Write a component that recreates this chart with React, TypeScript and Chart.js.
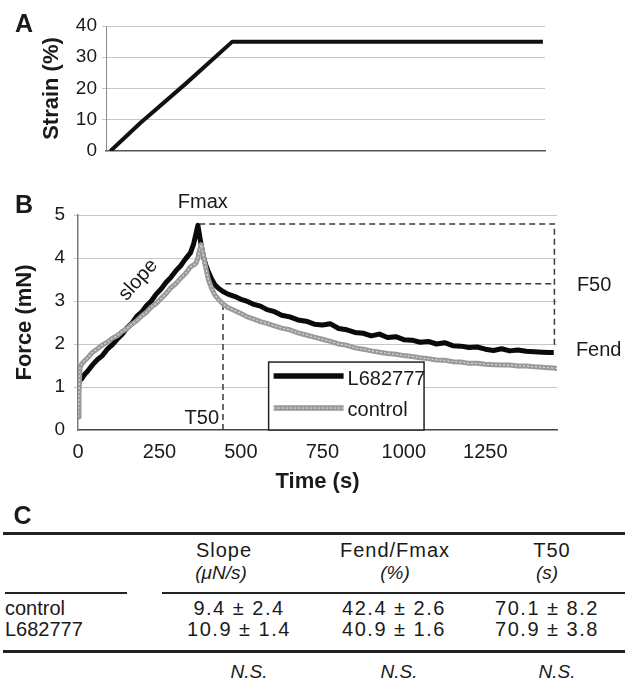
import React, { useEffect, useRef } from "react";
import { Chart, registerables } from "chart.js";

Chart.register(...registerables);

const FONT = '"Liberation Sans", Arial, Helvetica, sans-serif';
const INK = "#1a1a1a";

// ---------- Panel A: strain protocol ----------
const strainTime = [15, 114, 270, 423, 1463];
const strainValues = [0, 8.9, 21.8, 35, 35];
const strainTicks = [0, 10, 20, 30, 40];

// ---------- Panel B: force traces ----------
const timeS = [
  0, 3, 6, 10, 20, 30, 45, 60, 75, 90,
  105, 120, 135, 150, 165, 180, 195, 210, 225, 240,
  255, 270, 285, 300, 315, 330, 345, 355, 362, 368,
  372, 378, 385, 392, 400, 410, 420, 432, 445, 460,
  480, 500, 520, 540, 560, 580, 600, 625, 650, 675,
  700, 725, 750, 775, 800, 825, 850, 875, 900, 925,
  950, 975, 1000, 1025, 1050, 1075, 1100, 1125, 1150, 1175,
  1200, 1225, 1250, 1275, 1300, 1325, 1350, 1375, 1400, 1425,
  1445, 1460, 1472,
];
const forceL682777 = [
  null, 1.10, 1.15, 1.18, 1.29, 1.37, 1.52, 1.64, 1.73, 1.88,
  1.98, 2.11, 2.22, 2.37, 2.48, 2.64, 2.74, 2.89, 3.00, 3.16,
  3.28, 3.43, 3.55, 3.70, 3.82, 3.98, 4.12, 4.33, 4.56, 4.76,
  4.58, 4.30, 4.03, 3.84, 3.68, 3.51, 3.38, 3.29, 3.22, 3.16,
  3.11, 3.04, 2.99, 2.92, 2.88, 2.80, 2.76, 2.67, 2.63, 2.56,
  2.53, 2.46, 2.44, 2.47, 2.36, 2.33, 2.27, 2.25, 2.19, 2.23,
  2.15, 2.17, 2.10, 2.09, 2.04, 2.06, 2.00, 2.03, 1.96, 1.95,
  1.92, 1.93, 1.88, 1.85, 1.89, 1.84, 1.86, 1.83, 1.82, 1.81,
  1.80, 1.80, null,
];
const forceControl = [
  0.30, 0.85, 1.45, 1.52, 1.61, 1.68, 1.81, 1.89, 1.98, 2.04,
  2.13, 2.19, 2.29, 2.36, 2.46, 2.54, 2.65, 2.74, 2.86, 2.94,
  3.06, 3.17, 3.31, 3.40, 3.53, 3.64, 3.79, 3.84, 3.88, 4.00,
  4.16, 4.31, 4.05, 3.78, 3.50, 3.30, 3.14, 3.03, 2.93, 2.85,
  2.78, 2.71, 2.63, 2.58, 2.52, 2.48, 2.43, 2.37, 2.33, 2.26,
  2.21, 2.16, 2.11, 2.06, 2.00, 1.97, 1.91, 1.88, 1.84, 1.81,
  1.78, 1.76, 1.73, 1.71, 1.68, 1.66, 1.63, 1.62, 1.59, 1.58,
  1.55, 1.55, 1.53, 1.52, 1.51, 1.51, 1.49, 1.49, 1.47, 1.46,
  1.45, 1.44, 1.43,
];
const timeTicks = [0, 250, 500, 750, 1000, 1250];
const forceTicks = [0, 1, 2, 3, 4, 5];
const seriesNames = ["L682777", "control"];

// annotation values (data units)
const fmaxValue = 4.79;
const fmaxTime = 372;
const f50Value = 3.4;
const f50StartTime = 452;
const t50Time = 445;
const t50Force = 2.93;
const endTime = 1462;
const fendValue = 1.9;

// ---------- Panel C: table ----------
const tableHeaders = ["Slope", "Fend/Fmax", "T50"];
const tableUnits = ["(\u03bcN/s)", "(%)", "(s)"];
const tableRows = ["control", "L682777"];
const controlStats = ["9.4 \u00b1 2.4", "42.4 \u00b1 2.6", "70.1 \u00b1 8.2"];
const l682777Stats = ["10.9 \u00b1 1.4", "40.9 \u00b1 1.6", "70.9 \u00b1 3.8"];
const significance = ["N.S.", "N.S.", "N.S."];

const CONTROL_COLOR = "#999999";
const CONTROL_TEXTURE = "#d6d6d6";
const L_COLOR = "#0a0a0a";

const gridColor = (ctx: any) =>
  ctx.tick && ctx.tick.value === 0 ? "rgba(0,0,0,0)" : "#c6c6c6";

const plainTick = (v: any) => String(v);

const forceAnnotations = {
  id: "forceAnnotations",
  beforeDatasetsDraw(chart: any) {
    const { ctx, scales } = chart;
    const x = scales.x;
    const y = scales.y;
    ctx.save();
    ctx.strokeStyle = "#3a3a3a";
    ctx.lineWidth = 1.5;
    ctx.setLineDash([6, 4]);
    ctx.beginPath();
    ctx.moveTo(x.getPixelForValue(fmaxTime), y.getPixelForValue(fmaxValue));
    ctx.lineTo(x.getPixelForValue(endTime), y.getPixelForValue(fmaxValue));
    ctx.lineTo(x.getPixelForValue(endTime), y.getPixelForValue(fendValue));
    ctx.stroke();
    ctx.beginPath();
    ctx.moveTo(x.getPixelForValue(f50StartTime), y.getPixelForValue(f50Value));
    ctx.lineTo(x.getPixelForValue(endTime), y.getPixelForValue(f50Value));
    ctx.stroke();
    ctx.beginPath();
    ctx.moveTo(x.getPixelForValue(t50Time), y.getPixelForValue(t50Force));
    ctx.lineTo(x.getPixelForValue(t50Time), y.getPixelForValue(0));
    ctx.stroke();
    ctx.restore();
  },
  afterDatasetsDraw(chart: any) {
    const { ctx, scales } = chart;
    const x = scales.x;
    const y = scales.y;
    const left = x.getPixelForValue(585);
    const right = x.getPixelForValue(1062);
    const top = y.getPixelForValue(1.58);
    const bottom = y.getPixelForValue(0);
    ctx.save();
    ctx.fillStyle = "#ffffff";
    ctx.fillRect(left, top, right - left, bottom - top);
    ctx.strokeStyle = "#222";
    ctx.lineWidth = 1.5;
    ctx.strokeRect(left, top, right - left, bottom - top);
    const rows = [
      { label: seriesNames[0], y: top + 14, ty: top + 17, control: false },
      { label: seriesNames[1], y: top + 46, ty: top + 48, control: true },
    ];
    ctx.font = `20px ${FONT}`;
    ctx.textBaseline = "middle";
    ctx.textAlign = "left";
    rows.forEach((r) => {
      ctx.setLineDash([]);
      ctx.lineCap = "butt";
      ctx.beginPath();
      ctx.moveTo(left + 5, r.y);
      ctx.lineTo(left + 75, r.y);
      ctx.strokeStyle = r.control ? CONTROL_COLOR : L_COLOR;
      ctx.lineWidth = 5.5;
      ctx.stroke();
      if (r.control) {
        ctx.beginPath();
        ctx.setLineDash([2, 2]);
        ctx.moveTo(left + 5, r.y);
        ctx.lineTo(left + 75, r.y);
        ctx.strokeStyle = CONTROL_TEXTURE;
        ctx.lineWidth = 1.3;
        ctx.stroke();
        ctx.setLineDash([]);
      }
      ctx.fillStyle = INK;
      ctx.fillText(r.label, left + 79, r.ty);
    });
    ctx.restore();
  },
  afterDraw(chart: any) {
    const { ctx, scales } = chart;
    const x = scales.x;
    const y = scales.y;
    ctx.save();
    ctx.fillStyle = INK;
    ctx.font = `20px ${FONT}`;
    ctx.textBaseline = "middle";
    ctx.textAlign = "center";
    ctx.fillText("Fmax", x.getPixelForValue(383), y.getPixelForValue(5.3));
    ctx.fillText("T50", x.getPixelForValue(380), y.getPixelForValue(0.26));
    ctx.textAlign = "left";
    ctx.fillText("F50", x.getPixelForValue(1531), y.getPixelForValue(3.37));
    ctx.fillText("Fend", x.getPixelForValue(1528), y.getPixelForValue(1.86));
    ctx.translate(x.getPixelForValue(185), y.getPixelForValue(3.49));
    ctx.rotate((-48 * Math.PI) / 180);
    ctx.textAlign = "center";
    ctx.fillText("slope", 0, 0);
    ctx.restore();
  },
};

function Txt(props: {
  x: number;
  y: number;
  size?: number;
  bold?: boolean;
  italic?: boolean;
  left?: boolean;
  ls?: number;
  children: React.ReactNode;
}) {
  const { x, y, size = 20, bold, italic, left, ls = 0, children } = props;
  return (
    <div
      style={{
        position: "absolute",
        left: x,
        top: y,
        transform: left ? "translate(0,-50%)" : "translate(-50%,-50%)",
        fontSize: size,
        lineHeight: `${size}px`,
        fontWeight: bold ? "bold" : "normal",
        fontStyle: italic ? "italic" : "normal",
        whiteSpace: "nowrap",
        letterSpacing: ls,
        color: INK,
      }}
    >
      {children}
    </div>
  );
}

function Rule(props: { x: number; y: number; w: number; h: number }) {
  return (
    <div
      style={{
        position: "absolute",
        left: props.x,
        top: props.y,
        width: props.w,
        height: props.h,
        background: "#222",
      }}
    />
  );
}

export default function App() {
  const aRef = useRef<HTMLCanvasElement>(null);
  const bRef = useRef<HTMLCanvasElement>(null);

  useEffect(() => {
    Chart.defaults.font.family = FONT;

    const chartA = new Chart(aRef.current as HTMLCanvasElement, {
      type: "line",
      data: {
        datasets: [
          {
            label: "Strain",
            data: strainTime.map((t, i) => ({ x: t, y: strainValues[i] })),
            borderColor: "#111",
            borderWidth: 4,
            borderJoinStyle: "round",
            pointRadius: 0,
            tension: 0,
          },
        ],
      },
      options: {
        animation: false,
        responsive: false,
        layout: { padding: { left: 0, right: 80, top: 26, bottom: 0 } },
        plugins: { legend: { display: false }, tooltip: { enabled: false } },
        scales: {
          x: {
            type: "linear",
            min: 0,
            max: 1470,
            ticks: { display: false },
            grid: { display: false, drawTicks: false },
            border: { display: true, color: "#555", width: 1.5 },
            afterFit: (s: any) => {
              s.height = 29;
            },
          },
          y: {
            type: "linear",
            min: 0,
            max: 40,
            afterBuildTicks: (s: any) => {
              s.ticks = strainTicks.map((v) => ({ value: v }));
            },
            ticks: { font: { size: 19, family: FONT }, color: INK, padding: 5, callback: plainTick },
            grid: { color: gridColor, tickLength: 4, lineWidth: 1 },
            border: { color: "#8a8a8a", width: 1 },
            title: {
              display: true,
              text: "Strain (%)",
              color: INK,
              font: { size: 22, weight: "bold", family: FONT },
              padding: { top: 39, bottom: 0 },
            },
            afterFit: (s: any) => {
              s.width = 106;
            },
          },
        },
      } as any,
    });

    const lPoints = timeS.map((t, i) => ({ x: t, y: forceL682777[i] }));
    const cPoints = timeS.map((t, i) => ({ x: t, y: forceControl[i] }));

    const chartB = new Chart(bRef.current as HTMLCanvasElement, {
      type: "line",
      data: {
        datasets: [
          {
            label: seriesNames[1] + " texture",
            data: cPoints,
            borderColor: CONTROL_TEXTURE,
            borderWidth: 1.3,
            borderDash: [2, 2],
            borderJoinStyle: "round",
            pointRadius: 0,
            tension: 0,
          },
          {
            label: seriesNames[1],
            data: cPoints,
            borderColor: CONTROL_COLOR,
            borderWidth: 5,
            borderJoinStyle: "round",
            pointRadius: 0,
            tension: 0,
          },
          {
            label: seriesNames[0],
            data: lPoints,
            borderColor: L_COLOR,
            borderWidth: 5,
            borderJoinStyle: "round",
            pointRadius: 0,
            tension: 0,
          },
        ],
      },
      options: {
        animation: false,
        responsive: false,
        layout: { padding: { left: 0, right: 68, top: 40, bottom: 0 } },
        plugins: { legend: { display: false }, tooltip: { enabled: false } },
        scales: {
          x: {
            type: "linear",
            min: 0,
            max: 1470,
            afterBuildTicks: (s: any) => {
              s.ticks = timeTicks.map((v) => ({ value: v }));
            },
            ticks: { font: { size: 20, family: FONT }, color: INK, padding: 10, maxRotation: 0, callback: plainTick },
            grid: { display: false, drawTicks: false },
            border: { display: true, color: "#444", width: 1.5 },
            title: {
              display: true,
              text: "Time (s)",
              color: INK,
              font: { size: 22, weight: "bold", family: FONT },
              padding: { top: 0, bottom: 5 },
            },
            afterFit: (s: any) => {
              s.height = 70;
            },
          },
          y: {
            type: "linear",
            min: 0,
            max: 5,
            afterBuildTicks: (s: any) => {
              s.ticks = forceTicks.map((v) => ({ value: v }));
            },
            ticks: { font: { size: 19, family: FONT }, color: INK, padding: 9, callback: plainTick },
            grid: { color: gridColor, tickLength: 4, lineWidth: 1 },
            border: { color: "#7a7a7a", width: 1.5 },
            title: {
              display: true,
              text: "Force (mN)",
              color: INK,
              font: { size: 22, weight: "bold", family: FONT },
              padding: { top: 12, bottom: 0 },
            },
            afterFit: (s: any) => {
              s.width = 78;
            },
          },
        },
      } as any,
      plugins: [forceAnnotations],
    });

    return () => {
      chartA.destroy();
      chartB.destroy();
    };
  }, []);

  const headerX = [224, 395, 552];
  const unitX = [221, 395, 547];
  const valueX = [239, 394, 547];
  const nsX = [249, 399, 557];

  return (
    <div
      style={{
        position: "absolute",
        left: 0,
        top: 0,
        width: 625,
        height: 682,
        background: "#ffffff",
        fontFamily: FONT,
        overflow: "hidden",
      }}
    >
      <canvas ref={aRef} width={625} height={180} style={{ position: "absolute", left: 0, top: 0 }} />
      <canvas ref={bRef} width={625} height={325} style={{ position: "absolute", left: 0, top: 175 }} />

      <Txt x={24} y={23} size={25} bold>A</Txt>
      <Txt x={24} y={204} size={25} bold>B</Txt>
      <Txt x={22.5} y={515} size={25} bold>C</Txt>

      <Rule x={3} y={532} w={622} h={3} />
      <Rule x={5} y={592} w={122} h={2} />
      <Rule x={162} y={592} w={463} h={2} />
      <Rule x={3} y={650} w={622} h={3} />

      {tableHeaders.map((h, i) => (
        <Txt key={"h" + i} x={headerX[i]} y={550} ls={1}>{h}</Txt>
      ))}
      {tableUnits.map((u, i) => (
        <Txt key={"u" + i} x={unitX[i]} y={572} size={19} italic>{u}</Txt>
      ))}
      <Txt x={5} y={608} left>{tableRows[0]}</Txt>
      <Txt x={5} y={629} left>{tableRows[1]}</Txt>
      {controlStats.map((v, i) => (
        <Txt key={"c" + i} x={valueX[i]} y={608} ls={1.5}>{v}</Txt>
      ))}
      {l682777Stats.map((v, i) => (
        <Txt key={"l" + i} x={valueX[i]} y={629} ls={1.5}>{v}</Txt>
      ))}
      {significance.map((s, i) => (
        <Txt key={"s" + i} x={nsX[i]} y={671} size={19} italic>{s}</Txt>
      ))}
    </div>
  );
}
